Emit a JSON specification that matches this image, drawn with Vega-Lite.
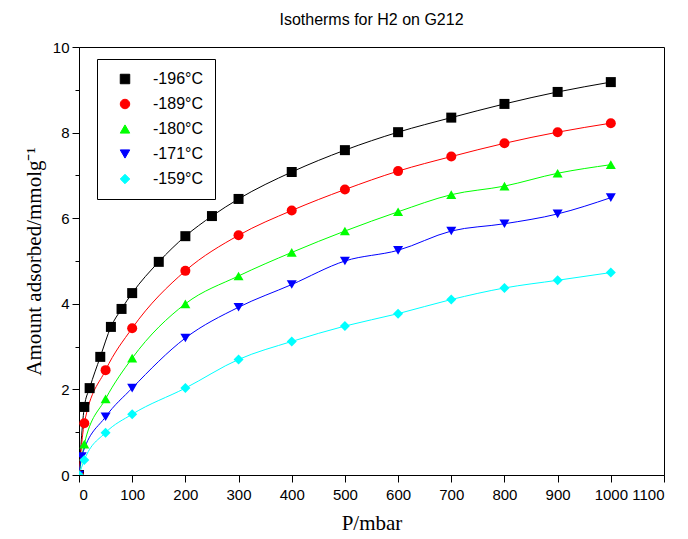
{
  "$schema": "https://vega.github.io/schema/vega-lite/v6.json",
  "autosize": {"type": "none"},
  "width": 585,
  "height": 428,
  "padding": {"left": 79, "top": 47, "right": 24, "bottom": 64},
  "background": "white",
  "title": {"text": "Isotherms for H2 on G212", "font": "Liberation Sans", "fontSize": 16, "fontWeight": "normal", "color": "black", "offset": 12, "anchor": "middle"},
  "data": {"values": [
    {"series": "-196°C", "P": 0, "q": 0},
    {"series": "-196°C", "P": 10, "q": 1.59},
    {"series": "-196°C", "P": 20, "q": 2.03},
    {"series": "-196°C", "P": 40, "q": 2.76},
    {"series": "-196°C", "P": 60, "q": 3.46},
    {"series": "-196°C", "P": 80, "q": 3.88},
    {"series": "-196°C", "P": 100, "q": 4.25},
    {"series": "-196°C", "P": 150, "q": 4.98},
    {"series": "-196°C", "P": 200, "q": 5.58},
    {"series": "-196°C", "P": 250, "q": 6.05},
    {"series": "-196°C", "P": 300, "q": 6.45},
    {"series": "-196°C", "P": 400, "q": 7.08},
    {"series": "-196°C", "P": 500, "q": 7.59},
    {"series": "-196°C", "P": 600, "q": 8.01},
    {"series": "-196°C", "P": 700, "q": 8.35},
    {"series": "-196°C", "P": 800, "q": 8.67},
    {"series": "-196°C", "P": 900, "q": 8.95},
    {"series": "-196°C", "P": 1000, "q": 9.18},
    {"series": "-189°C", "P": 0, "q": 0},
    {"series": "-189°C", "P": 10, "q": 1.21},
    {"series": "-189°C", "P": 50, "q": 2.45},
    {"series": "-189°C", "P": 100, "q": 3.43},
    {"series": "-189°C", "P": 200, "q": 4.77},
    {"series": "-189°C", "P": 300, "q": 5.6},
    {"series": "-189°C", "P": 400, "q": 6.18},
    {"series": "-189°C", "P": 500, "q": 6.67},
    {"series": "-189°C", "P": 600, "q": 7.1},
    {"series": "-189°C", "P": 700, "q": 7.44},
    {"series": "-189°C", "P": 800, "q": 7.75},
    {"series": "-189°C", "P": 900, "q": 8.01},
    {"series": "-189°C", "P": 1000, "q": 8.22},
    {"series": "-180°C", "P": 0, "q": 0},
    {"series": "-180°C", "P": 10, "q": 0.72},
    {"series": "-180°C", "P": 50, "q": 1.78},
    {"series": "-180°C", "P": 100, "q": 2.73},
    {"series": "-180°C", "P": 200, "q": 4.0},
    {"series": "-180°C", "P": 300, "q": 4.65},
    {"series": "-180°C", "P": 400, "q": 5.2},
    {"series": "-180°C", "P": 500, "q": 5.7},
    {"series": "-180°C", "P": 600, "q": 6.15},
    {"series": "-180°C", "P": 700, "q": 6.55},
    {"series": "-180°C", "P": 800, "q": 6.75},
    {"series": "-180°C", "P": 900, "q": 7.05},
    {"series": "-180°C", "P": 1000, "q": 7.25},
    {"series": "-171°C", "P": 0, "q": 0},
    {"series": "-171°C", "P": 5, "q": 0.43},
    {"series": "-171°C", "P": 50, "q": 1.36},
    {"series": "-171°C", "P": 100, "q": 2.03},
    {"series": "-171°C", "P": 200, "q": 3.2},
    {"series": "-171°C", "P": 300, "q": 3.92},
    {"series": "-171°C", "P": 400, "q": 4.45},
    {"series": "-171°C", "P": 500, "q": 5.0},
    {"series": "-171°C", "P": 600, "q": 5.25},
    {"series": "-171°C", "P": 700, "q": 5.7},
    {"series": "-171°C", "P": 800, "q": 5.87},
    {"series": "-171°C", "P": 900, "q": 6.1},
    {"series": "-171°C", "P": 1000, "q": 6.48},
    {"series": "-159°C", "P": 0, "q": 0},
    {"series": "-159°C", "P": 10, "q": 0.35},
    {"series": "-159°C", "P": 50, "q": 0.99},
    {"series": "-159°C", "P": 100, "q": 1.42},
    {"series": "-159°C", "P": 200, "q": 2.03},
    {"series": "-159°C", "P": 300, "q": 2.7},
    {"series": "-159°C", "P": 400, "q": 3.12},
    {"series": "-159°C", "P": 500, "q": 3.48},
    {"series": "-159°C", "P": 600, "q": 3.77},
    {"series": "-159°C", "P": 700, "q": 4.1},
    {"series": "-159°C", "P": 800, "q": 4.37},
    {"series": "-159°C", "P": 900, "q": 4.55},
    {"series": "-159°C", "P": 1000, "q": 4.73}
  ]},
  "layer": [
    {
      "mark": {"type": "line", "interpolate": "monotone", "strokeWidth": 1, "clip": true},
      "encoding": {
        "x": {"field": "P", "type": "quantitative", "scale": {"domain": [0, 1100], "nice": false},
              "axis": {"values": [0,50,100,150,200,250,300,350,400,450,500,550,600,650,700,750,800,850,900,950,1000,1050,1100],
                       "format": "d",
                       "labelOverlap": false,
                       "labelExpr": "datum.value % 100 === 0 ? datum.label : ''",
                       "tickSize": {"condition": {"test": "datum.value % 100 === 0", "value": 7}, "value": 4},
                       "title": "P/mbar"}},
        "y": {"field": "q", "type": "quantitative", "scale": {"domain": [0, 10], "nice": false},
              "axis": {"values": [0,1,2,3,4,5,6,7,8,9,10],
                       "labelOverlap": false,
                       "labelExpr": "datum.value % 2 === 0 ? datum.label : ''",
                       "tickSize": {"condition": {"test": "datum.value % 2 === 0", "value": 7}, "value": 4},
                       "title": "Amount adsorbed/mmolg⁻¹"}},
        "color": {"field": "series", "type": "nominal", "title": null,
                  "scale": {"domain": ["-196°C","-189°C","-180°C","-171°C","-159°C"], "range": ["#000000","#ff0000","#00ff00","#0000ff","#00ffff"]},
                  "legend": {
                    "encode": {
                      "symbols": {
                        "update": {
                          "shape": {"signal": "datum.value === '-196°C' ? 'M-0.5,-0.5H0.5V0.5H-0.5Z M-2.1,0H2.1' : datum.value === '-189°C' ? 'M-0.56,0A0.56,0.56 0 1,0 0.56,0A0.56,0.56 0 1,0 -0.56,0Z M-2.1,0H2.1' : datum.value === '-180°C' ? 'M0,-0.6L0.62,0.45H-0.62Z M-2.1,0H2.1' : datum.value === '-171°C' ? 'M0,0.6L0.62,-0.45H-0.62Z M-2.1,0H2.1' : 'M0,-0.62L0.62,0L0,0.62L-0.62,0Z M-2.1,0H2.1'"},
                          "stroke": {"signal": "scale('color', datum.value)"},
                          "strokeWidth": {"value": 1}
                        }
                      }
                    }
                  }},
        "detail": {"field": "series"}
      }
    },
    {
      "mark": {"type": "point", "filled": true, "opacity": 1, "size": 100, "clip": true},
      "encoding": {
        "x": {"field": "P", "type": "quantitative"},
        "y": {"field": "q", "type": "quantitative"},
        "color": {"field": "series", "type": "nominal", "title": null},
        "shape": {"field": "series", "type": "nominal", "title": null,
                  "scale": {"domain": ["-196°C","-189°C","-180°C","-171°C","-159°C"], "range": ["square","circle","triangle-up","triangle-down","diamond"]}}
      }
    }
  ],
  "config": {
    "view": {"stroke": "black", "strokeWidth": 1},
    "axis": {
      "grid": false,
      "domainColor": "black",
      "tickColor": "black",
      "labelColor": "black",
      "labelFont": "Liberation Sans",
      "labelFontSize": 15,
      "titleFont": "Liberation Serif",
      "titleFontSize": 21,
      "titleFontWeight": "normal",
      "titleColor": "black"
    },
    "axisX": {"titlePadding": 10, "labelPadding": 5},
    "axisY": {"titlePadding": 8, "labelPadding": 3},
    "legend": {
      "orient": "none",
      "legendX": 18,
      "legendY": 12,
      "strokeColor": "black",
      "fillColor": "white",
      "padding": 12,
      "labelFont": "Liberation Sans",
      "labelFontSize": 16,
      "labelColor": "black",
      "symbolSize": 90,
      "rowPadding": 9,
      "symbolOffset": 8,
      "labelOffset": 20
    }
  }
}
